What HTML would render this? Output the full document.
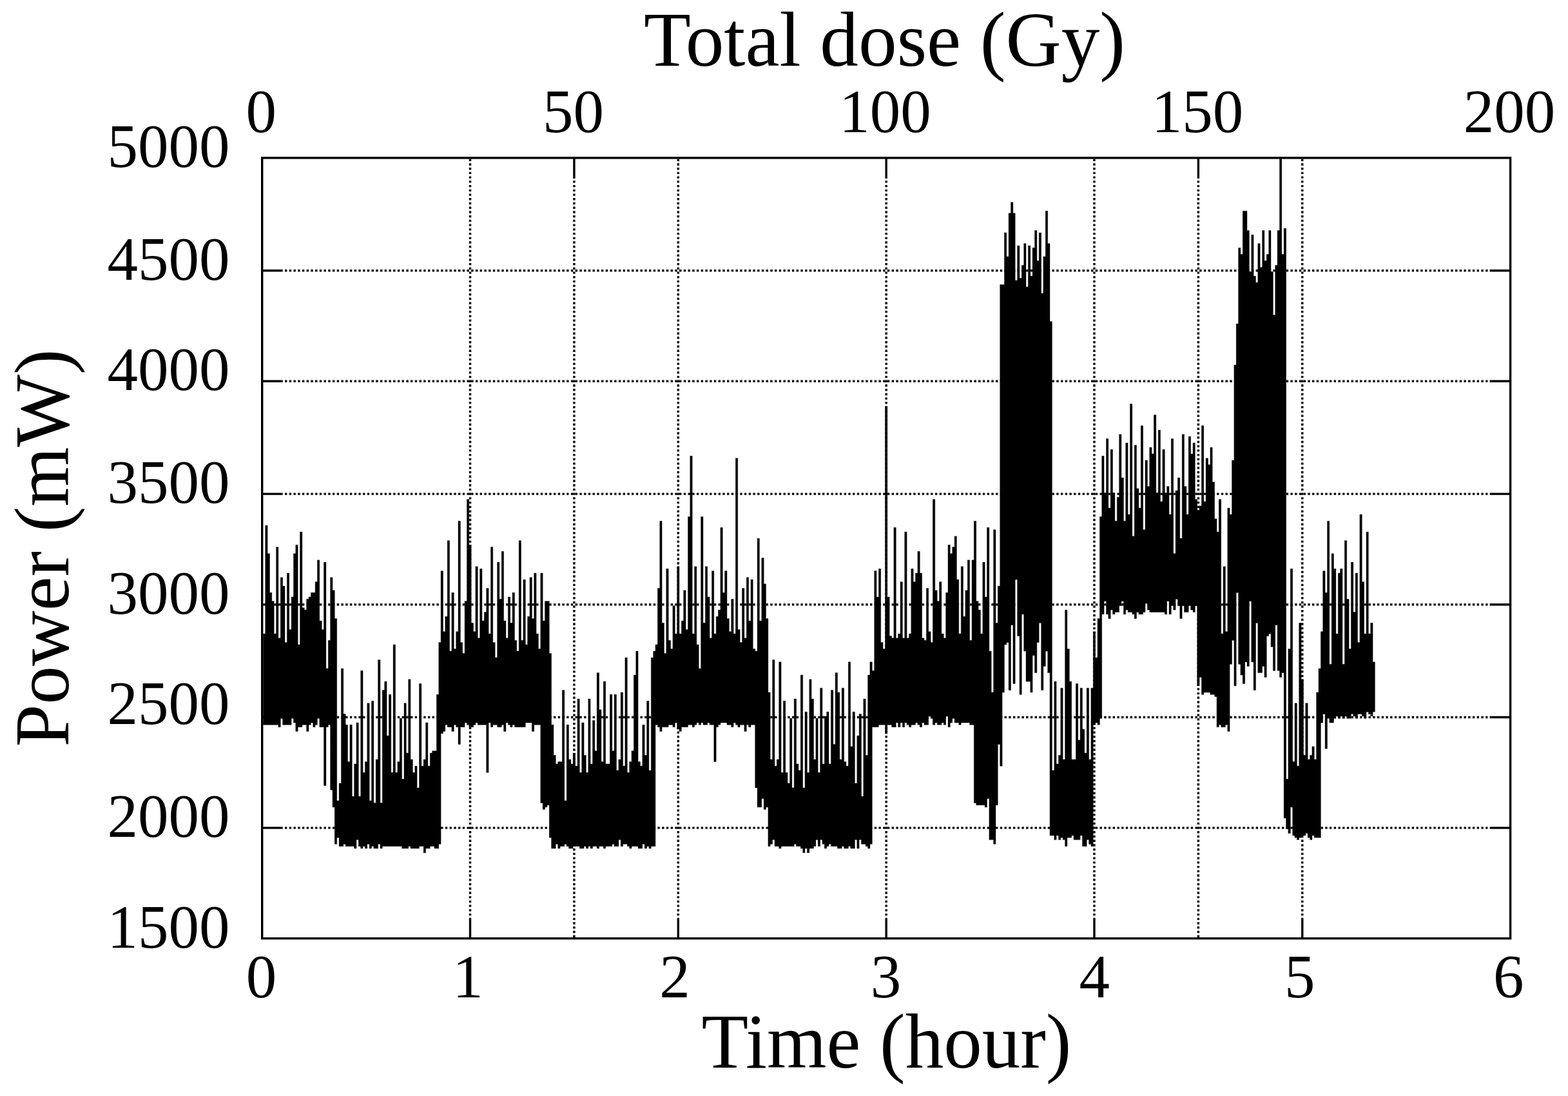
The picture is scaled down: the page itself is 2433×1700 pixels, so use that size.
<!DOCTYPE html>
<html lang="en"><head><meta charset="utf-8"><title>Power vs Time</title>
<style>html,body{margin:0;padding:0;background:#fff}body{width:2433px;height:1700px;overflow:hidden}svg{display:block}</style>
</head><body>
<svg width="2433" height="1700" viewBox="0 0 2433 1700">
<rect x="0" y="0" width="2433" height="1700" fill="#fff"/>
<g stroke="#000" stroke-width="3.4" fill="none"><line x1="442.01" y1="419.78" x2="2309.97" y2="419.78" stroke-dasharray="3.363 3.363"/><line x1="442.01" y1="591.29" x2="2309.97" y2="591.29" stroke-dasharray="3.363 3.363"/><line x1="442.01" y1="766.17" x2="2309.97" y2="766.17" stroke-dasharray="3.363 3.363"/><line x1="442.01" y1="937.69" x2="2309.97" y2="937.69" stroke-dasharray="3.363 3.363"/><line x1="442.01" y1="1112.57" x2="2309.97" y2="1112.57" stroke-dasharray="3.363 3.363"/><line x1="442.01" y1="1284.08" x2="2309.97" y2="1284.08" stroke-dasharray="3.363 3.363"/><line x1="729.52" y1="246.58" x2="729.52" y2="1421.97" stroke-dasharray="3.363 3.363"/><line x1="890.92" y1="280.21" x2="890.92" y2="1453.90" stroke-dasharray="3.363 3.363"/><line x1="1052.33" y1="246.58" x2="1052.33" y2="1421.97" stroke-dasharray="3.363 3.363"/><line x1="1375.15" y1="280.21" x2="1375.15" y2="1421.97" stroke-dasharray="3.363 3.363"/><line x1="1697.97" y1="246.58" x2="1697.97" y2="1421.97" stroke-dasharray="3.363 3.363"/><line x1="1859.38" y1="280.21" x2="1859.38" y2="1453.90" stroke-dasharray="3.363 3.363"/><line x1="2020.78" y1="246.58" x2="2020.78" y2="1421.97" stroke-dasharray="3.363 3.363"/></g>
<g stroke="#000" stroke-width="3.4" fill="none"><line x1="406.70" y1="419.78" x2="438.70" y2="419.78"/><line x1="2343.60" y1="419.78" x2="2311.60" y2="419.78"/><line x1="406.70" y1="591.29" x2="438.70" y2="591.29"/><line x1="2343.60" y1="591.29" x2="2311.60" y2="591.29"/><line x1="406.70" y1="766.17" x2="438.70" y2="766.17"/><line x1="2343.60" y1="766.17" x2="2311.60" y2="766.17"/><line x1="406.70" y1="937.69" x2="438.70" y2="937.69"/><line x1="2343.60" y1="937.69" x2="2311.60" y2="937.69"/><line x1="406.70" y1="1112.57" x2="438.70" y2="1112.57"/><line x1="2343.60" y1="1112.57" x2="2311.60" y2="1112.57"/><line x1="406.70" y1="1284.08" x2="438.70" y2="1284.08"/><line x1="2343.60" y1="1284.08" x2="2311.60" y2="1284.08"/><line x1="729.52" y1="1455.60" x2="729.52" y2="1423.60"/><line x1="1052.33" y1="1455.60" x2="1052.33" y2="1423.60"/><line x1="1375.15" y1="1455.60" x2="1375.15" y2="1423.60"/><line x1="1697.97" y1="1455.60" x2="1697.97" y2="1423.60"/><line x1="2020.78" y1="1455.60" x2="2020.78" y2="1423.60"/><line x1="890.92" y1="244.90" x2="890.92" y2="276.90"/><line x1="1375.15" y1="244.90" x2="1375.15" y2="276.90"/><line x1="1859.38" y1="244.90" x2="1859.38" y2="276.90"/></g>
<path fill="#000" stroke="#000" stroke-width="0.4" stroke-linejoin="miter" d="M408.4 983.1V983.1H411.7V814.9H415.1V858.7H418.5V919.2H421.8V932.6H425.2V983.1H428.6V848.6H431.9V989.8H435.3V895.7H438.6V909.1H442.0V996.5H445.4V888.9H448.7V976.4H452.1V925.9H455.5V858.7H458.8V845.2H462.2V999.9H465.5V825.0H468.9V942.7H472.3V946.1H475.6V929.3H479.0V925.9H482.4V919.2H485.7V919.2H489.1V902.4H492.4V868.7H495.8V962.9H499.2V976.4H502.5V872.1H505.9V1036.9H509.3V993.2H512.6V895.7H516.0V915.8H519.3V959.5H522.7V1242.0H526.1V1215.1H529.4V1036.9H532.8V1107.5H536.2V1124.3H539.5V1181.5H542.9V1124.3H546.3V1235.3H549.6V1184.9H553.0V1121.0H556.3V1235.3H559.7V1040.3H563.1V1198.3H566.4V1181.5H569.8V1090.7H573.2V1242.0H576.5V1087.3H579.9V1245.4H583.2V1178.1H586.6V1023.4H590.0V1245.4H593.3V1070.5H596.7V1057.1H600.1V1141.2H603.4V1077.3H606.8V1198.3H610.1V999.9H613.5V1198.3H616.9V1181.5H620.2V1114.2H623.6V1208.4H627.0V1090.7H630.3V1168.1H633.7V1053.7H637.0V1178.1H640.4V1198.3H643.8V1188.2H647.1V1221.9H650.5V1060.4H653.9V1188.2H657.2V1178.1H660.6V1121.0H663.9V1188.2H667.3V1168.1H670.7V1164.7H674.0V1164.7H677.4V1077.3H680.8V996.5H684.1V885.6H687.5V979.7H690.8V956.2H694.2V838.5H697.6V1010.0H700.9V919.2H704.3V1006.6H707.7V979.7H711.0V808.2H714.4V996.5H717.7V1013.4H721.1V932.6H724.5V774.6H727.8V845.2H731.2V966.3H734.6V979.7H737.9V878.8H741.3V989.8H744.6V882.2H748.0V962.9H751.4V949.5H754.7V912.5H758.1V983.1H761.5V848.6H764.8V996.5H768.2V1020.1H771.6V872.1H774.9V929.3H778.3V855.3H781.6V962.9H785.0V989.8H788.4V925.9H791.7V966.3H795.1V919.2H798.5V993.2H801.8V1010.0H805.2V838.5H808.5V993.2H811.9V899.0H815.3V999.9H818.6V956.2H822.0V895.7H825.4V959.5H828.7V888.9H832.1V983.1H835.4V1006.6H838.8V888.9H842.2V962.9H845.5V932.6H848.9V932.6H852.3V1013.4H855.6V1124.3H859.0V1171.4H862.3V1184.9H865.7V1181.5H869.1V1181.5H872.4V1070.5H875.8V1242.0H879.2V1124.3H882.5V1178.1H885.9V1184.9H889.2V1168.1H892.6V1188.2H896.0V1084.0H899.3V1198.3H902.7V1121.0H906.1V1171.4H909.4V1198.3H912.8V1084.0H916.1V1184.9H919.5V1117.6H922.9V1164.7H926.2V1043.6H929.6V1100.8H933.0V1181.5H936.3V1057.1H939.7V1184.9H943.0V1184.9H946.4V1077.3H949.8V1164.7H953.1V1077.3H956.5V1195.0H959.9V1178.1H963.2V1073.9H966.6V1188.2H969.9V1020.1H973.3V1198.3H976.7V1181.5H980.0V1164.7H983.4V1047.0H986.8V1010.0H990.1V1181.5H993.5V1188.2H996.8V1124.3H1000.2V1171.4H1003.6V1087.3H1006.9V1195.0H1010.3V1020.1H1013.7V1010.0H1017.0V999.9H1020.4V912.5H1023.8V808.2H1027.1V966.3H1030.5V1013.4H1033.8V882.2H1037.2V993.2H1040.6V1006.6H1043.9V939.4H1047.3V983.1H1050.7V878.8H1054.0V983.1H1057.4V962.9H1060.7V915.8H1064.1V976.4H1067.5V801.5H1070.8V707.3H1074.2V983.1H1077.6V878.8H1080.9V999.9H1084.3V1036.9H1087.6V801.5H1091.0V966.3H1094.4V878.8H1097.7V925.9H1101.1V989.8H1104.5V885.6H1107.8V983.1H1111.2V956.2H1114.5V946.1H1117.9V818.3H1121.3V919.2H1124.6V885.6H1128.0V959.5H1131.4V979.7H1134.7V929.3H1138.1V983.1H1141.4V710.7H1144.8V976.4H1148.2V996.5H1151.5V912.5H1154.9V989.8H1158.3V895.7H1161.6V962.9H1165.0V899.0H1168.3V1006.6H1171.7V1010.0H1175.1V835.1H1178.4V962.9H1181.8V865.4H1185.2V905.7H1188.5V959.5H1191.9V1073.9H1195.2V1178.1H1198.6V1023.4H1202.0V1188.2H1205.3V1178.1H1208.7V1026.8H1212.1V1198.3H1215.4V1087.3H1218.8V1198.3H1222.1V1215.1H1225.5V1114.2H1228.9V1221.9H1232.2V1084.0H1235.6V1184.9H1239.0V1195.0H1242.3V1047.0H1245.7V1221.9H1249.0V1104.2H1252.4V1198.3H1255.8V1053.7H1259.1V1084.0H1262.5V1178.1H1265.9V1114.2H1269.2V1198.3H1272.6V1067.2H1276.0V1184.9H1279.3V1110.9H1282.7V1104.2H1286.0V1184.9H1289.4V1070.5H1292.8V1154.6H1296.1V1043.6H1299.5V1073.9H1302.9V1178.1H1306.2V1067.2H1309.6V1181.5H1312.9V1188.2H1316.3V1026.8H1319.7V1158.0H1323.0V1104.2H1326.4V1215.1H1329.8V1141.2H1333.1V1107.5H1336.5V1235.3H1339.8V1084.0H1343.2V1171.4H1346.6V1047.0H1349.9V1026.8H1353.3V1040.3H1356.7V885.6H1360.0V925.9H1363.4V882.2H1366.7V996.5H1370.1V1006.6H1373.5V630.0H1376.8V925.9H1380.2V986.5H1383.6V989.8H1386.9V818.3H1390.3V989.8H1393.6V983.1H1397.0V902.4H1400.4V989.8H1403.7V825.0H1407.1V989.8H1410.5V983.1H1413.8V882.2H1417.2V902.4H1420.5V888.9H1423.9V855.3H1427.3V888.9H1430.6V989.8H1434.0V993.2H1437.4V912.5H1440.7V979.7H1444.1V996.5H1447.4V774.6H1450.8V915.8H1454.2V932.6H1457.5V902.4H1460.9V983.1H1464.3V989.8H1467.6V919.2H1471.0V845.2H1474.3V858.7H1477.7V848.6H1481.1V831.8H1484.4V899.0H1487.8V983.1H1491.2V878.8H1494.5V956.2H1497.9V915.8H1501.3V868.7H1504.6V993.2H1508.0V868.7H1511.3V808.2H1514.7V932.6H1518.1V946.1H1521.4V983.1H1524.8V872.1H1528.2V925.9H1531.5V818.3H1534.9V1010.0H1538.2V1073.9H1541.6V821.7H1545.0V966.3H1548.3V909.1H1551.7V441.6H1555.1V441.6H1558.4V360.9H1561.8V397.9H1565.1V330.7H1568.5V313.8H1571.9V330.7H1575.2V434.9H1578.6V381.1H1582.0V431.5H1585.3V411.4H1588.7V377.7H1592.0V445.0H1595.4V381.1H1598.8V428.2H1602.1V384.5H1605.5V357.6H1608.9V404.6H1612.2V360.9H1615.6V455.1H1618.9V397.9H1622.3V327.3H1625.7V377.7H1629.0V498.8H1632.4V1195.0H1635.8V1057.1H1639.1V1184.9H1642.5V1171.4H1645.8V1067.2H1649.2V1178.1H1652.6V946.1H1655.9V1006.6H1659.3V1057.1H1662.7V1178.1H1666.0V1178.1H1669.4V1060.4H1672.7V1147.9H1676.1V1067.2H1679.5V1131.1H1682.8V1168.1H1686.2V1067.2H1689.6V1178.1H1692.9V1067.2H1696.3V979.7H1699.6V1020.1H1703.0V959.5H1706.4V801.5H1709.7V707.3H1713.1V764.5H1716.5V680.4H1719.8V788.0H1723.2V697.2H1726.5V764.5H1729.9V808.2H1733.3V771.2H1736.6V673.7H1740.0V741.0H1743.4V808.2H1746.7V687.1H1750.1V798.1H1753.5V626.6H1756.8V831.8H1760.2V690.5H1763.5V757.8H1766.9V788.0H1770.3V660.2H1773.6V821.7H1777.0V714.0H1780.4V754.4H1783.7V693.9H1787.1V704.0H1790.4V643.4H1793.8V764.5H1797.2V667.0H1800.5V777.9H1803.9V697.2H1807.3V764.5H1810.6V754.4H1814.0V798.1H1817.3V680.4H1820.7V858.7H1824.1V761.1H1827.4V741.0H1830.8V835.1H1834.2V673.7H1837.5V754.4H1840.9V798.1H1844.2V677.1H1847.6V704.0H1851.0V687.1H1854.3V774.6H1857.7V791.4H1861.1V784.7H1864.4V660.2H1867.8V777.9H1871.1V710.7H1874.5V720.8H1877.9V693.9H1881.2V747.7H1884.6V804.8H1888.0V825.0H1891.3V774.6H1894.7V983.1H1898.0V878.8H1901.4V979.7H1904.8V788.0H1908.1V798.1H1911.5V714.0H1914.9V566.1H1918.2V502.2H1921.6V384.5H1924.9V394.6H1928.3V327.3H1931.7V327.3H1935.0V357.6H1938.4V421.5H1941.8V364.3H1945.1V428.2H1948.5V438.3H1951.8V377.7H1955.2V414.7H1958.6V357.6H1961.9V404.6H1965.3V394.6H1968.7V357.6H1972.0V421.5H1975.4V488.7H1978.7V411.4H1982.1V357.6H1985.5V246.6H1988.8V394.6H1992.2V354.2H1995.6V1208.4H1998.9V1006.6H2002.3V882.2H2005.7V1181.5H2009.0V1090.7H2012.4V1188.2H2015.7V966.3H2019.1V1053.7H2022.5V1171.4H2025.8V1090.7H2029.2V1178.1H2032.6V1171.4H2035.9V1158.0H2039.3V1178.1H2042.6V1073.9H2046.0V1036.9H2049.4V979.7H2052.7V885.6H2056.1V919.2H2059.5V808.2H2062.8V1030.2H2066.2V858.7H2069.5V882.2H2072.9V983.1H2076.3V888.9H2079.6V882.2H2083.0V1030.2H2086.4V838.5H2089.7V929.3H2093.1V1006.6H2096.4V872.1H2099.8V949.5H2103.2V888.9H2106.5V996.5H2109.9V798.1H2113.3V902.4H2116.6V983.1H2120.0V825.0H2123.3V983.1H2126.7V966.3H2130.1V1026.8H2133.4V1104.2H2130.1V1110.9H2126.7V1107.5H2123.3V1104.2H2120.0V1114.2H2116.6V1110.9H2113.3V1107.5H2109.9V1107.5H2106.5V1114.2H2103.2V1110.9H2099.8V1107.5H2096.4V1114.2H2093.1V1114.2H2089.7V1110.9H2086.4V1114.2H2083.0V1110.9H2079.6V1114.2H2076.3V1110.9H2072.9V1114.2H2069.5V1121.0H2066.2V1121.0H2062.8V1114.2H2059.5V1161.3H2056.1V1107.5H2052.7V1121.0H2049.4V1299.2H2046.0V1299.2H2042.6V1299.2H2039.3V1295.9H2035.9V1302.6H2032.6V1299.2H2029.2V1292.5H2025.8V1295.9H2022.5V1295.9H2019.1V1299.2H2015.7V1302.6H2012.4V1299.2H2009.0V1295.9H2005.7V1252.1H2002.3V1292.5H1998.9V1285.8H1995.6V1269.0H1992.2V1043.6H1988.8V1050.4H1985.5V1040.3H1982.1V969.6H1978.7V1040.3H1975.4V1003.3H1972.0V983.1H1968.7V986.5H1965.3V1050.4H1961.9V1033.5H1958.6V1043.6H1955.2V1043.6H1951.8V966.3H1948.5V1070.5H1945.1V1026.8H1941.8V932.6H1938.4V1033.5H1935.0V1026.8H1931.7V1060.4H1928.3V1047.0H1924.9V1030.2H1921.6V919.2H1918.2V1063.8H1914.9V993.2H1911.5V1030.2H1908.1V1134.4H1904.8V1124.3H1901.4V1127.7H1898.0V1127.7H1894.7V1124.3H1891.3V1127.7H1888.0V1080.6H1884.6V1077.3H1881.2V1077.3H1877.9V1073.9H1874.5V1073.9H1871.1V1073.9H1867.8V1077.3H1864.4V1050.4H1861.1V1063.8H1857.7V939.4H1854.3V949.5H1851.0V946.1H1847.6V939.4H1844.2V949.5H1840.9V949.5H1837.5V939.4H1834.2V959.5H1830.8V939.4H1827.4V929.3H1824.1V946.1H1820.7V939.4H1817.3V952.8H1814.0V932.6H1810.6V952.8H1807.3V949.5H1803.9V949.5H1800.5V949.5H1797.2V949.5H1793.8V949.5H1790.4V949.5H1787.1V949.5H1783.7V946.1H1780.4V936.0H1777.0V949.5H1773.6V952.8H1770.3V952.8H1766.9V949.5H1763.5V959.5H1760.2V952.8H1756.8V949.5H1753.5V949.5H1750.1V946.1H1746.7V952.8H1743.4V932.6H1740.0V939.4H1736.6V949.5H1733.3V949.5H1729.9V952.8H1726.5V946.1H1723.2V959.5H1719.8V952.8H1716.5V932.6H1713.1V952.8H1709.7V1114.2H1706.4V1124.3H1703.0V1121.0H1699.6V1124.3H1696.3V1312.7H1692.9V1309.3H1689.6V1302.6H1686.2V1312.7H1682.8V1312.7H1679.5V1295.9H1676.1V1302.6H1672.7V1302.6H1669.4V1302.6H1666.0V1295.9H1662.7V1299.2H1659.3V1299.2H1655.9V1312.7H1652.6V1302.6H1649.2V1299.2H1645.8V1302.6H1642.5V1295.9H1639.1V1302.6H1635.8V1295.9H1632.4V1295.9H1629.0V1043.6H1625.7V1010.0H1622.3V1033.5H1618.9V1070.5H1615.6V966.3H1612.2V996.5H1608.9V1043.6H1605.5V1016.7H1602.1V1073.9H1598.8V1057.1H1595.4V1057.1H1592.0V1010.0H1588.7V952.8H1585.3V1077.3H1582.0V986.5H1578.6V899.0H1575.2V1060.4H1571.9V969.6H1568.5V1070.5H1565.1V996.5H1561.8V999.9H1558.4V1073.9H1555.1V1188.2H1551.7V1154.6H1548.3V1248.8H1545.0V1309.3H1541.6V1302.6H1538.2V1302.6H1534.9V1238.7H1531.5V1252.1H1528.2V1248.8H1524.8V1248.8H1521.4V1248.8H1518.1V1248.8H1514.7V1245.4H1511.3V1124.3H1508.0V1124.3H1504.6V1121.0H1501.3V1121.0H1497.9V1121.0H1494.5V1121.0H1491.2V1124.3H1487.8V1121.0H1484.4V1121.0H1481.1V1114.2H1477.7V1121.0H1474.3V1127.7H1471.0V1110.9H1467.6V1124.3H1464.3V1121.0H1460.9V1124.3H1457.5V1124.3H1454.2V1121.0H1450.8V1124.3H1447.4V1114.2H1444.1V1110.9H1440.7V1124.3H1437.4V1124.3H1434.0V1121.0H1430.6V1127.7H1427.3V1124.3H1423.9V1121.0H1420.5V1124.3H1417.2V1124.3H1413.8V1127.7H1410.5V1124.3H1407.1V1121.0H1403.7V1127.7H1400.4V1121.0H1397.0V1127.7H1393.6V1121.0H1390.3V1127.7H1386.9V1127.7H1383.6V1124.3H1380.2V1124.3H1376.8V1137.8H1373.5V1124.3H1370.1V1124.3H1366.7V1124.3H1363.4V1127.7H1360.0V1127.7H1356.7V1127.7H1353.3V1309.3H1349.9V1316.0H1346.6V1312.7H1343.2V1309.3H1339.8V1309.3H1336.5V1302.6H1333.1V1316.0H1329.8V1302.6H1326.4V1316.0H1323.0V1316.0H1319.7V1312.7H1316.3V1316.0H1312.9V1316.0H1309.6V1312.7H1306.2V1316.0H1302.9V1316.0H1299.5V1312.7H1296.1V1312.7H1292.8V1312.7H1289.4V1309.3H1286.0V1312.7H1282.7V1316.0H1279.3V1309.3H1276.0V1302.6H1272.6V1312.7H1269.2V1302.6H1265.9V1312.7H1262.5V1316.0H1259.1V1316.0H1255.8V1322.8H1252.4V1316.0H1249.0V1322.8H1245.7V1316.0H1242.3V1312.7H1239.0V1312.7H1235.6V1309.3H1232.2V1312.7H1228.9V1312.7H1225.5V1312.7H1222.1V1312.7H1218.8V1312.7H1215.4V1312.7H1212.1V1316.0H1208.7V1312.7H1205.3V1312.7H1202.0V1302.6H1198.6V1309.3H1195.2V1312.7H1191.9V1252.1H1188.5V1255.5H1185.2V1238.7H1181.8V1252.1H1178.4V1252.1H1175.1V1221.9H1171.7V1124.3H1168.3V1124.3H1165.0V1127.7H1161.6V1124.3H1158.3V1134.4H1154.9V1124.3H1151.5V1124.3H1148.2V1127.7H1144.8V1124.3H1141.4V1121.0H1138.1V1127.7H1134.7V1124.3H1131.4V1124.3H1128.0V1121.0H1124.6V1121.0H1121.3V1121.0H1117.9V1124.3H1114.5V1127.7H1111.2V1181.5H1107.8V1124.3H1104.5V1124.3H1101.1V1121.0H1097.7V1124.3H1094.4V1124.3H1091.0V1121.0H1087.6V1124.3H1084.3V1121.0H1080.9V1124.3H1077.6V1127.7H1074.2V1124.3H1070.8V1124.3H1067.5V1127.7H1064.1V1127.7H1060.7V1127.7H1057.4V1134.4H1054.0V1131.1H1050.7V1121.0H1047.3V1127.7H1043.9V1124.3H1040.6V1124.3H1037.2V1127.7H1033.8V1127.7H1030.5V1127.7H1027.1V1134.4H1023.8V1127.7H1020.4V1124.3H1017.0V1312.7H1013.7V1312.7H1010.3V1316.0H1006.9V1312.7H1003.6V1316.0H1000.2V1309.3H996.8V1316.0H993.5V1316.0H990.1V1312.7H986.8V1312.7H983.4V1312.7H980.0V1316.0H976.7V1312.7H973.3V1309.3H969.9V1309.3H966.6V1312.7H963.2V1302.6H959.9V1312.7H956.5V1312.7H953.1V1309.3H949.8V1312.7H946.4V1312.7H943.0V1312.7H939.7V1316.0H936.3V1312.7H933.0V1312.7H929.6V1316.0H926.2V1312.7H922.9V1312.7H919.5V1316.0H916.1V1312.7H912.8V1316.0H909.4V1312.7H906.1V1316.0H902.7V1316.0H899.3V1312.7H896.0V1312.7H892.6V1312.7H889.2V1316.0H885.9V1316.0H882.5V1312.7H879.2V1309.3H875.8V1312.7H872.4V1312.7H869.1V1316.0H865.7V1309.3H862.3V1316.0H859.0V1316.0H855.6V1299.2H852.3V1248.8H848.9V1252.1H845.5V1255.5H842.2V1245.4H838.8V1124.3H835.4V1124.3H832.1V1124.3H828.7V1134.4H825.4V1121.0H822.0V1121.0H818.6V1121.0H815.3V1127.7H811.9V1127.7H808.5V1127.7H805.2V1127.7H801.8V1127.7H798.5V1124.3H795.1V1127.7H791.7V1124.3H788.4V1121.0H785.0V1134.4H781.6V1124.3H778.3V1127.7H774.9V1127.7H771.6V1124.3H768.2V1124.3H764.8V1127.7H761.5V1121.0H758.1V1198.3H754.7V1124.3H751.4V1124.3H748.0V1124.3H744.6V1124.3H741.3V1121.0H737.9V1124.3H734.6V1127.7H731.2V1127.7H727.8V1124.3H724.5V1121.0H721.1V1127.7H717.7V1127.7H714.4V1154.6H711.0V1127.7H707.7V1124.3H704.3V1134.4H700.9V1127.7H697.6V1127.7H694.2V1124.3H690.8V1134.4H687.5V1137.8H684.1V1309.3H680.8V1316.0H677.4V1316.0H674.0V1312.7H670.7V1312.7H667.3V1316.0H663.9V1316.0H660.6V1322.8H657.2V1312.7H653.9V1312.7H650.5V1316.0H647.1V1316.0H643.8V1316.0H640.4V1316.0H637.0V1312.7H633.7V1316.0H630.3V1316.0H627.0V1316.0H623.6V1312.7H620.2V1312.7H616.9V1312.7H613.5V1312.7H610.1V1312.7H606.8V1312.7H603.4V1312.7H600.1V1312.7H596.7V1312.7H593.3V1316.0H590.0V1309.3H586.6V1316.0H583.2V1316.0H579.9V1312.7H576.5V1316.0H573.2V1309.3H569.8V1316.0H566.4V1312.7H563.1V1316.0H559.7V1312.7H556.3V1302.6H553.0V1316.0H549.6V1312.7H546.3V1312.7H542.9V1312.7H539.5V1312.7H536.2V1309.3H532.8V1312.7H529.4V1312.7H526.1V1299.2H522.7V1309.3H519.3V1252.1H516.0V1225.2H512.6V1124.3H509.3V1127.7H505.9V1218.5H502.5V1127.7H499.2V1127.7H495.8V1114.2H492.4V1124.3H489.1V1127.7H485.7V1121.0H482.4V1124.3H479.0V1134.4H475.6V1124.3H472.3V1124.3H468.9V1127.7H465.5V1127.7H462.2V1134.4H458.8V1121.0H455.5V1114.2H452.1V1124.3H448.7V1124.3H445.4V1124.3H442.0V1124.3H438.6V1114.2H435.3V1127.7H431.9V1124.3H428.6V1124.3H425.2V1124.3H421.8V1124.3H418.5V1124.3H415.1V1124.3H411.7V1124.3H408.4Z"/>
<rect x="406.70" y="244.90" width="1936.90" height="1210.70" fill="none" stroke="#000" stroke-width="3.4"/>
<g font-family="'Liberation Serif', 'DejaVu Serif', serif" font-size="95" fill="#000"><text x="356.6" y="258.7" text-anchor="end">5000</text><text x="356.6" y="434.2" text-anchor="end">4500</text><text x="356.6" y="605.3" text-anchor="end">4000</text><text x="356.6" y="779.9" text-anchor="end">3500</text><text x="356.6" y="952.0" text-anchor="end">3000</text><text x="356.6" y="1123.2" text-anchor="end">2500</text><text x="356.6" y="1297.9" text-anchor="end">2000</text><text x="356.6" y="1470.2" text-anchor="end">1500</text><text x="405.4" y="1547" text-anchor="middle">0</text><text x="726.1" y="1547" text-anchor="middle">1</text><text x="1047.1" y="1547" text-anchor="middle">2</text><text x="1374.4" y="1547" text-anchor="middle">3</text><text x="1698.3" y="1547" text-anchor="middle">4</text><text x="2016.8" y="1547" text-anchor="middle">5</text><text x="2340.8" y="1547" text-anchor="middle">6</text><text x="405.2" y="204.8" text-anchor="middle">0</text><text x="889.4" y="204.8" text-anchor="middle">50</text><text x="1373.6" y="204.8" text-anchor="middle">100</text><text x="1857.9" y="204.8" text-anchor="middle">150</text><text x="2342.1" y="204.8" text-anchor="middle">200</text></g>
<g font-family="'Liberation Serif', 'DejaVu Serif', serif" font-size="120" fill="#000">
<text x="1372.6" y="101.8" text-anchor="middle" textLength="747" lengthAdjust="spacingAndGlyphs">Total dose (Gy)</text>
<text x="1375.4" y="1655.5" text-anchor="middle" textLength="574" lengthAdjust="spacingAndGlyphs">Time (hour)</text>
<text transform="translate(106 850) rotate(-90)" text-anchor="middle" textLength="617" lengthAdjust="spacingAndGlyphs">Power (mW)</text>
</g>
</svg>
</body></html>
